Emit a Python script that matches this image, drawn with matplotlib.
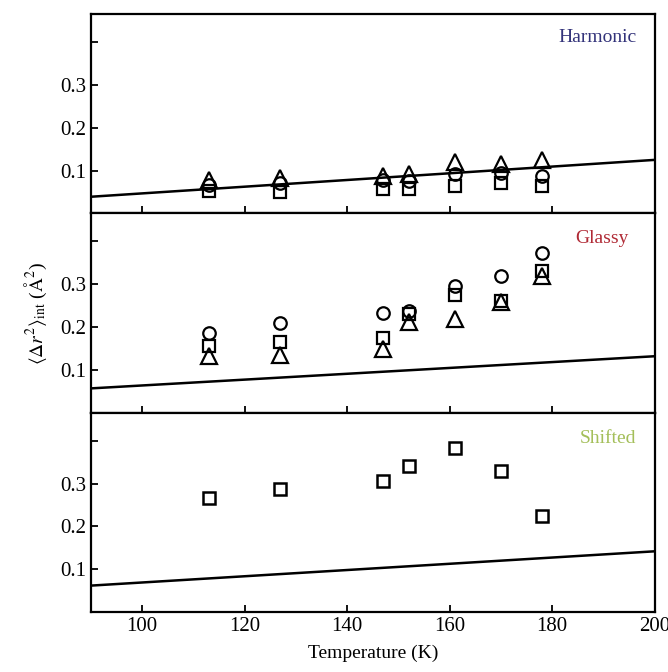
import matplotlib
matplotlib.use("Agg")
from matplotlib import pyplot as plt

plt.rcParams["font.family"] = ["Liberation Serif", "DejaVu Serif"]
plt.rcParams["mathtext.fontset"] = "stix"

temps = [113, 127, 147, 152, 161, 170, 178]

# harmonic panel
harm_tri = [0.077, 0.083, 0.088, 0.091, 0.119, 0.116, 0.124]
harm_circ = [0.066, 0.071, 0.079, 0.076, 0.091, 0.094, 0.087]
harm_sq = [0.053, 0.050, 0.056, 0.057, 0.064, 0.071, 0.065]

# glassy panel
glass_circ = [0.186, 0.210, 0.233, 0.237, 0.295, 0.320, 0.372]
glass_sq = [0.155, 0.165, 0.174, 0.230, 0.276, 0.262, 0.331]
glass_tri = [0.132, 0.135, 0.148, 0.212, 0.220, 0.259, 0.320]

# shifted panel
shift_sq = [0.266, 0.288, 0.305, 0.341, 0.384, 0.329, 0.224]

line_x = [90, 200]
harm_line = [0.039, 0.125]
glass_line = [0.057, 0.132]
shift_line = [0.062, 0.142]

fig = plt.figure(figsize=(6.68, 6.72), dpi=100)
gs = fig.add_gridspec(3, 1, left=0.136, right=0.98, top=0.979, bottom=0.089, hspace=0)
axes = [fig.add_subplot(gs[i]) for i in range(3)]

mk = dict(linestyle="none", markerfacecolor="none", markeredgecolor="black")


def style(ax):
    ax.set_xlim(90, 200)
    ax.set_ylim(0, 0.465)
    ax.set_yticks([0.1, 0.2, 0.3, 0.4])
    ax.set_yticklabels(["0.1", "0.2", "0.3", ""])
    ax.set_xticks([100, 120, 140, 160, 180, 200])
    ax.tick_params(direction="in", length=5, width=1.3, labelsize=15, top=False, right=False)
    for s in ax.spines.values():
        s.set_linewidth(1.6)


ax = axes[0]
ax.plot(line_x, harm_line, color="black", lw=1.8)
ax.plot(temps, harm_tri, marker="^", markersize=11, markeredgewidth=1.6, **mk)
ax.plot(temps, harm_circ, marker="o", markersize=9, markeredgewidth=1.6, **mk)
ax.plot(temps, harm_sq, marker="s", markersize=8.5, markeredgewidth=1.6, **mk)
ax.text(0.968, 0.885, "Harmonic", transform=ax.transAxes, ha="right", va="center",
        color="#33337a", fontsize=14)

ax = axes[1]
ax.plot(line_x, glass_line, color="black", lw=1.8)
ax.plot(temps, glass_circ, marker="o", markersize=9, markeredgewidth=1.6, **mk)
ax.plot(temps, glass_sq, marker="s", markersize=8.5, markeredgewidth=1.6, **mk)
ax.plot(temps, glass_tri, marker="^", markersize=11, markeredgewidth=1.6, **mk)
ax.text(0.953, 0.875, "Glassy", transform=ax.transAxes, ha="right", va="center",
        color="#b02a35", fontsize=14)
ax.set_ylabel(r"$\langle \Delta r^2 \rangle_{\rm int}$ ($\rm \AA^2$)", fontsize=14, labelpad=8)

ax = axes[2]
ax.plot(line_x, shift_line, color="black", lw=1.8)
ax.plot(temps, shift_sq, marker="s", markersize=8.5, markeredgewidth=1.8, **mk)
ax.text(0.968, 0.873, "Shifted", transform=ax.transAxes, ha="right", va="center",
        color="#a4bf5a", fontsize=14)
ax.set_xlabel("Temperature (K)", fontsize=14, labelpad=6)

for i, ax in enumerate(axes):
    style(ax)
    if i < 2:
        ax.tick_params(labelbottom=False)

fig.savefig("out.png", dpi=100)
